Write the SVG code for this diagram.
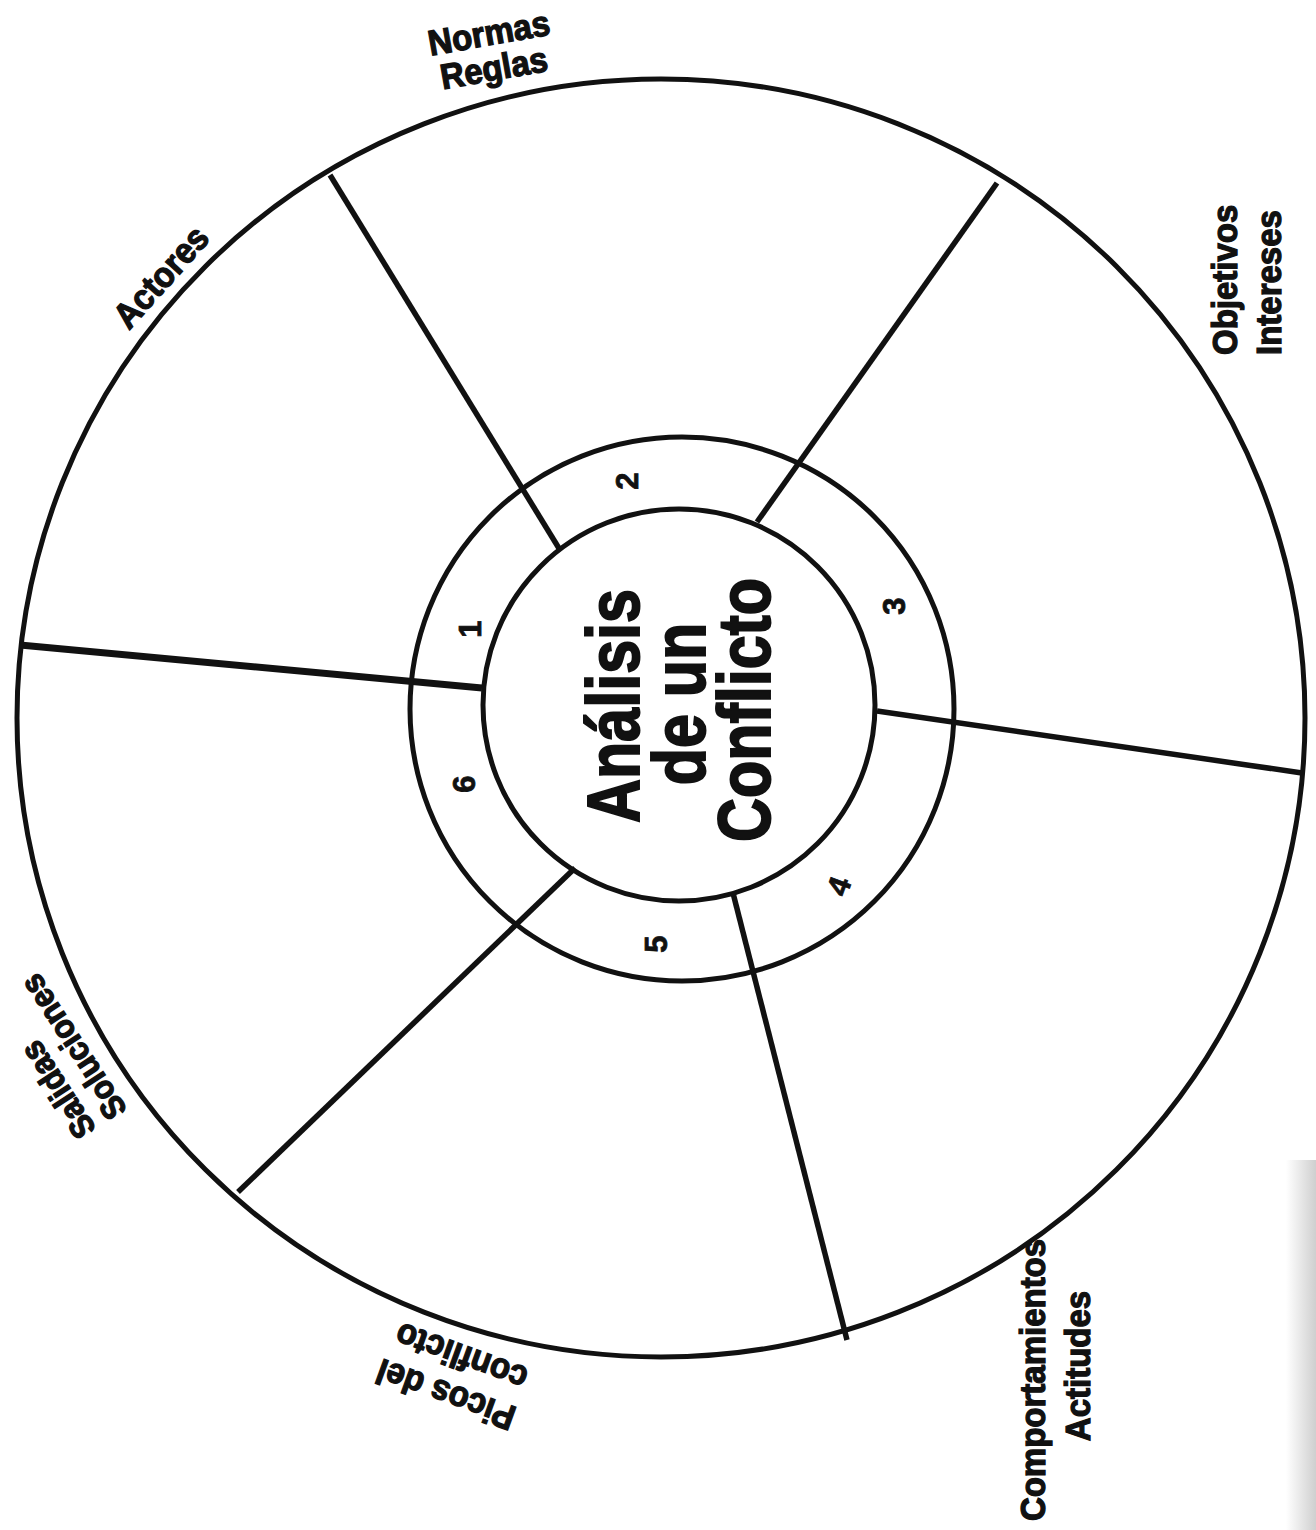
<svg xmlns="http://www.w3.org/2000/svg" width="1316" height="1530" viewBox="0 0 1316 1530">
  <defs>
    <style>
      .ring { fill: none; stroke: #111; stroke-width: 5; }
      .spoke { stroke: #111; stroke-width: 5.5; stroke-linecap: butt; fill: none; }
      .lbl { font-family: "Liberation Sans", Arial, Helvetica, sans-serif; font-weight: bold; font-size: 33px; fill: #111; stroke: #111; stroke-width: 1.2; }
      .num { font-family: "Liberation Sans", Arial, Helvetica, sans-serif; font-weight: bold; font-size: 31px; fill: #111; stroke: #111; stroke-width: 0.8; text-anchor: middle; }
      .title { font-family: "Liberation Sans", Arial, Helvetica, sans-serif; font-weight: bold; font-size: 61px; fill: #111; stroke: #111; stroke-width: 1.6; text-anchor: middle; }
      .mid { text-anchor: middle; }
      .start { text-anchor: start; }
    </style>
    <linearGradient id="shadow" x1="0" y1="0" x2="1" y2="0">
      <stop offset="0" stop-color="#ffffff"/>
      <stop offset="1" stop-color="#cfcfcf"/>
    </linearGradient>
  </defs>
  <rect x="0" y="0" width="1316" height="1530" fill="#ffffff"/>
  <rect x="1286" y="1160" width="30" height="370" fill="url(#shadow)"/>

  <g id="outer-circle">
    <ellipse class="ring" cx="661" cy="718" rx="644" ry="639"/>
  </g>

  <g id="connectors">
    <line class="spoke" x1="330" y1="175" x2="560" y2="550"/>
    <line class="spoke" x1="997" y1="183" x2="757" y2="522"/>
    <line class="spoke" x1="1302" y1="773" x2="877" y2="711"/>
    <line class="spoke" x1="847" y1="1340" x2="733" y2="893"/>
    <line class="spoke" x1="238" y1="1192" x2="575" y2="868"/>
    <line class="spoke" x1="20" y1="645" x2="482" y2="688" style="stroke-width:7"/>
  </g>

  <g id="ring">
    <circle class="ring" cx="682" cy="709" r="272"/>
  </g>

  <g id="center">
    <circle class="ring" cx="679" cy="705" r="196" fill="#fff"/>
    <text class="title" transform="translate(639,706) rotate(-90) scale(1,1.22)">Análisis</text>
    <text class="title" transform="translate(705,704) rotate(-90) scale(1,1.22)">de un</text>
    <text class="title" transform="translate(770,710) rotate(-90) scale(1,1.22)">Conflicto</text>
  </g>

  <g id="segment-1">
    <text class="num" transform="translate(481,629) rotate(-90)">1</text>
    <text class="lbl mid" transform="translate(170,285) rotate(-48) scale(1,1.08)">Actores</text>
  </g>
  <g id="segment-2">
    <text class="num" transform="translate(638,481) rotate(-90)">2</text>
    <text class="lbl mid" transform="translate(491,45) rotate(-10) scale(1,1.08)">Normas</text>
    <text class="lbl mid" transform="translate(496,80) rotate(-10) scale(1,1.08)">Reglas</text>
  </g>
  <g id="segment-3">
    <text class="num" transform="translate(905,606) rotate(-90)">3</text>
    <text class="lbl start" transform="translate(1237,355) rotate(-90) scale(1,1.08)">Objetivos</text>
    <text class="lbl start" transform="translate(1281,355) rotate(-90) scale(1,1.08)">Intereses</text>
  </g>
  <g id="segment-4">
    <text class="num" transform="translate(849,890) rotate(-70)">4</text>
    <text class="lbl mid" transform="translate(1045,1380) rotate(-90) scale(1,1.08)">Comportamientos</text>
    <text class="lbl mid" transform="translate(1090,1366) rotate(-90) scale(1,1.08)">Actitudes</text>
  </g>
  <g id="segment-5">
    <text class="num" transform="translate(667,944) rotate(-90)">5</text>
    <text class="lbl start" transform="translate(518,1408) rotate(200) scale(1,1.08)">Picos del</text>
    <text class="lbl start" transform="translate(530,1369) rotate(200) scale(1,1.08)">conflicto</text>
  </g>
  <g id="segment-6">
    <text class="num" transform="translate(475,784) rotate(-90)">6</text>
    <text class="lbl start" style="font-size:31px" transform="translate(97,1129) rotate(237) scale(1,1.08)">Salidas</text>
    <text class="lbl start" style="font-size:31px" transform="translate(128,1110) rotate(237) scale(1,1.08)">Soluciones</text>
  </g>
</svg>
